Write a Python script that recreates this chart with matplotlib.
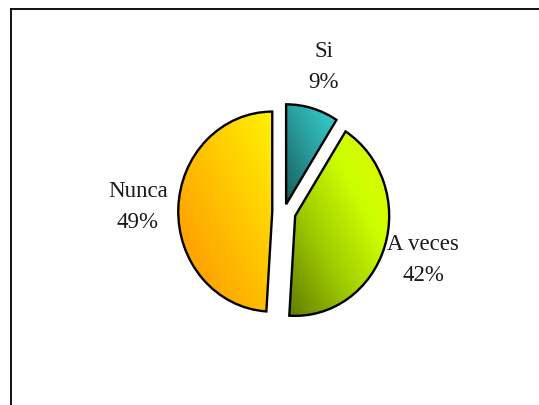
import numpy as np
import matplotlib
matplotlib.use("Agg")
import matplotlib.pyplot as plt
from matplotlib.colors import LinearSegmentedColormap
from matplotlib.lines import Line2D

# data
categories = ["Si", "A veces", "Nunca"]
percents = [9, 42, 49]
explode = [0.08, 0.125, 0.125]
gradients = [
    ["#185c5c", "#2a9c9c", "#38d4d4"],
    ["#627a00", "#9cc800", "#ccff00", "#e2f400"],
    ["#ff9000", "#ffc000", "#fff200"],
]

W, H = 539, 405
fig = plt.figure(figsize=(W / 100, H / 100), dpi=100)
fig.patch.set_facecolor("white")
ax = fig.add_axes([0, 0, 1, 1])

# pie centre / radius in pixels (slightly taller than wide, like the original)
cx, cy = 284, 212
rx, ry = 94, 100

labels = [f"{c}\n{p}%" for c, p in zip(categories, percents)]
wedges, texts = ax.pie(percents, labels=labels, explode=explode, startangle=90,
                       counterclock=False, labeldistance=1.43,
                       wedgeprops=dict(edgecolor="black", linewidth=1.7),
                       textprops=dict(family="Liberation Serif", fontsize=16.5,
                                      color="#1a1a1a", linespacing=1.65))
for t in texts:
    t.set_ha("center")
    t.set_va("center")

ax.set_aspect("auto")

# gradient fills clipped to each wedge, running bottom-left -> top-right of its box
for w, cols in zip(wedges, gradients):
    v = w.get_path().vertices
    x0, y0 = v.min(axis=0)
    x1, y1 = v.max(axis=0)
    cmap = LinearSegmentedColormap.from_list("g", cols)
    u = np.linspace(0, 1, 200)
    gx, gy = np.meshgrid(u, u)
    grad = (gx + gy) / 2
    w.set_facecolor("none")
    im = ax.imshow(grad, cmap=cmap, origin="lower", aspect="auto",
                   extent=(x0, x1, y0, y1), zorder=w.get_zorder() - 0.1,
                   interpolation="bilinear")
    im.set_clip_path(w)

ax.set_xlim(-cx / rx, (W - cx) / rx)
ax.set_ylim(-(H - cy) / ry, cy / ry)
ax.axis("off")

# outer frame (right and bottom edges fall outside the image)
fig.add_artist(Line2D([10.5 / W, 10.5 / W], [0, 1 - 8.5 / H], transform=fig.transFigure,
                      color="black", linewidth=1.3))
fig.add_artist(Line2D([10.5 / W, 1], [1 - 8.5 / H, 1 - 8.5 / H], transform=fig.transFigure,
                      color="black", linewidth=1.3))

fig.savefig("out.png", dpi=100)
